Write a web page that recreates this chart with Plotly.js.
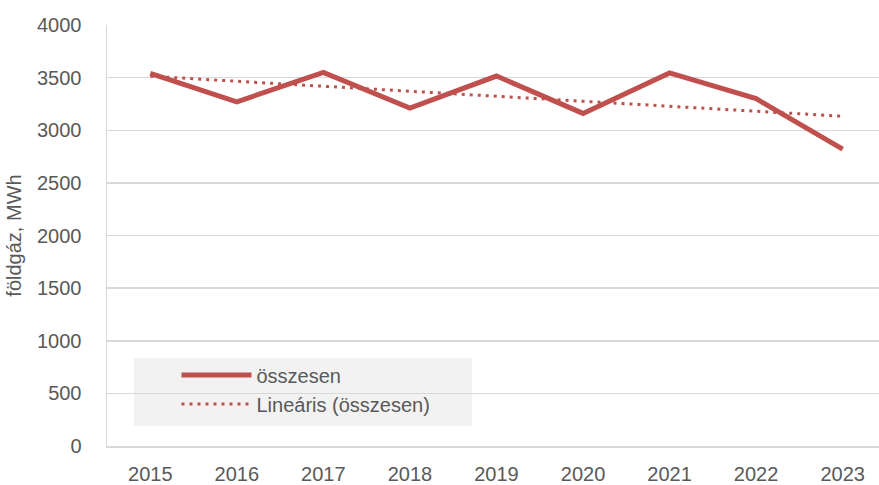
<!DOCTYPE html>
<html><head><meta charset="utf-8">
<script src="https://cdn.plot.ly/plotly-3.0.1.min.js"></script>
<style>html,body{margin:0;padding:0;background:#fff}#chart{width:879px;height:485px}</style>
</head><body><div id="chart"></div>
<script>
const years = ['2015','2016','2017','2018','2019','2020','2021','2022','2023'];
const osszesen = [3540, 3270, 3550, 3210, 3515, 3160, 3545, 3300, 2820];
const trendYears = ['2015','2023'];
const trendValues = [3513, 3133];
const yTicks = [0,500,1000,1500,2000,2500,3000,3500,4000];

const red = '#c0504d';
const grey = '#595959';
const font = '"Liberation Sans", Arial, sans-serif';

const traces = [
  {x: years, y: osszesen, type:'scatter', mode:'lines', name:'összesen',
   line:{color:red, width:5}},
  {x: trendYears, y: trendValues, type:'scatter', mode:'lines', name:'Lineáris (összesen)',
   line:{color:red, width:3, dash:'3px,5px'}}
];

const layout = {
  width:879, height:485,
  margin:{l:107, r:0, t:25, b:39},
  paper_bgcolor:'#fff', plot_bgcolor:'#fff',
  font:{family:font, size:20, color:grey},
  xaxis:{type:'category', range:[-0.5, 8.42], showgrid:false, showline:true,
         linecolor:'#d9d9d9', linewidth:1.5, ticks:'', tickfont:{size:20, color:grey}, zeroline:false,
         ticklabelstandoff:9},
  yaxis:{range:[0,4000], tickvals:yTicks, showgrid:true, gridcolor:'#d9d9d9', gridwidth:1.5,
         showline:true, linecolor:'#d9d9d9', linewidth:1.5, ticks:'', zeroline:false,
         tickfont:{size:20, color:grey}, ticklabelstandoff:20,
         title:{text:'földgáz, MWh', font:{size:20, color:grey}, standoff:10}},
  showlegend:true,
  legend:{x:0.09, y:0.215, xanchor:'left', yanchor:'top', bgcolor:'rgba(0,0,0,0)',
          font:{size:20, color:grey}, tracegroupgap:0, itemwidth:70},
  shapes:[{type:'rect', xref:'paper', yref:'paper', x0:(134-107)/772, x1:(472-107)/772,
           y0:(446-426)/421, y1:(446-358)/421, fillcolor:'#f2f2f2', line:{width:0}, layer:'below'}]
};
Plotly.newPlot('chart', traces, layout, {displayModeBar:false, staticPlot:true});
</script></body></html>
